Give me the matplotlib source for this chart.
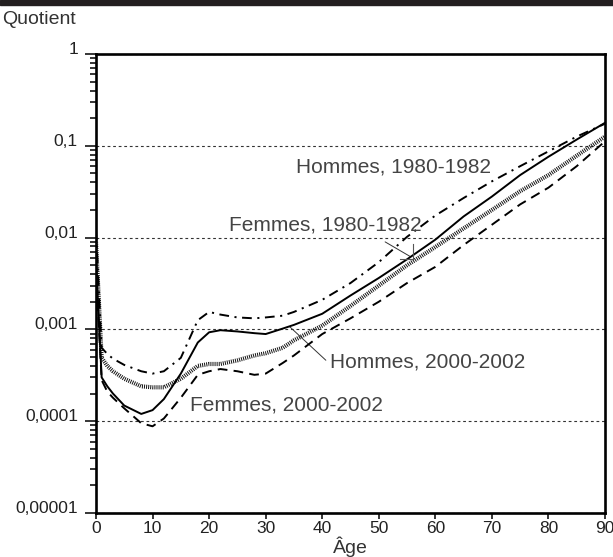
import matplotlib
matplotlib.use("Agg")
import matplotlib.pyplot as plt
import numpy as np
from matplotlib.patches import Rectangle
from matplotlib.ticker import LogLocator, FixedLocator, NullFormatter

plt.rcParams['font.family'] = ['Liberation Sans', 'DejaVu Sans']
plt.rcParams['lines.scale_dashes'] = False

# age and death quotients
ages = [0, 1, 2, 3, 5, 8, 10, 12, 15, 18, 20, 22, 25, 28, 30, 33, 35,
        40, 45, 50, 55, 60, 65, 70, 75, 80, 85, 90]

hommes_2000 = [0.0055, 0.0003, 0.00024, 0.0002, 0.000148, 0.00012, 0.000132, 0.000174,
               0.00033, 0.00072, 0.00093, 0.00098, 0.00095, 0.00091, 0.00089, 0.00102,
               0.00112, 0.00148, 0.00234, 0.00363, 0.0058, 0.0095, 0.017, 0.028,
               0.048, 0.076, 0.117, 0.178]
hommes_1980 = [0.012, 0.00063, 0.00054, 0.00048, 0.00041, 0.00035, 0.00033, 0.00035,
               0.00049, 0.00126, 0.00155, 0.00145, 0.00135, 0.00132, 0.00135, 0.00141,
               0.00155, 0.0021, 0.0032, 0.0054, 0.0102, 0.0174, 0.027, 0.041,
               0.060, 0.087, 0.126, 0.174]
femmes_1980 = [0.009, 0.00049, 0.0004, 0.00035, 0.00029, 0.00024, 0.000234, 0.000234,
               0.00029, 0.0004, 0.00042, 0.00042, 0.00046, 0.00052, 0.00055, 0.00063,
               0.00076, 0.0011, 0.0018, 0.003, 0.005, 0.0079, 0.0126, 0.020,
               0.032, 0.048, 0.078, 0.126]
femmes_2000 = [0.0045, 0.00028, 0.00021, 0.00018, 0.000138, 0.000095, 0.000088, 0.000107,
               0.00018, 0.00032, 0.00035, 0.00037, 0.00035, 0.00032, 0.00033, 0.00043,
               0.00052, 0.00089, 0.00132, 0.002, 0.0032, 0.0048, 0.0083, 0.0138,
               0.023, 0.035, 0.060, 0.112]

y_ticks = [1e-5, 1e-4, 1e-3, 1e-2, 1e-1, 1]
y_labels = ["0,00001", "0,0001", "0,001", "0,01", "0,1", "1"]
x_ticks = [0, 10, 20, 30, 40, 50, 60, 70, 80, 90]

fig = plt.figure(figsize=(6.13, 5.57), dpi=100)
ax = fig.add_axes([96/613, 1-513/557, (605-96)/613, (513-54)/557])

# top black band
fig.patches.append(Rectangle((0, 1-5/557), 1, 5/557, transform=fig.transFigure,
                             color='#231f20', zorder=0))

ax.plot(ages, hommes_2000, color='black', lw=1.4, zorder=4)
ax.plot(ages, hommes_1980, color='black', lw=1.4, linestyle=(0, (7, 4, 1.5, 4)), zorder=4)
ax.plot(ages, femmes_1980, color='#111111', lw=3, linestyle=(0, (0.7, 0.8)), zorder=3)
ax.plot(ages, femmes_2000, color='black', lw=1.4, linestyle=(0, (7, 4.5)), zorder=4)

ax.set_yscale('log')
ax.set_ylim(1e-5, 1)
ax.set_xlim(0, 90)
ax.yaxis.set_major_locator(FixedLocator(y_ticks))
ax.set_yticklabels(y_labels)
ax.yaxis.set_minor_locator(LogLocator(base=10, subs=np.arange(2, 10), numticks=20))
ax.yaxis.set_minor_formatter(NullFormatter())
ax.set_xticks(x_ticks)
ax.set_xticklabels([str(v) for v in x_ticks])

ax.tick_params(axis='y', which='major', direction='out', length=8, width=1.1,
               labelsize=12.5, labelcolor='#222222', pad=5)
ax.tick_params(axis='y', which='minor', direction='out', length=4, width=1.1)
ax.tick_params(axis='x', which='major', direction='out', length=4, width=1.1,
               labelsize=12.5, labelcolor='#222222', pad=2)
for lbl in ax.get_yticklabels():
    lbl.set_verticalalignment('baseline')

ax.yaxis.grid(True, which='major', linestyle=(0, (2, 2)), color='#333333', lw=0.8)
for s in ax.spines.values():
    s.set_linewidth(1.9)
    s.set_color('black')

ax.set_xlabel("Âge", fontsize=14, color='#333333', labelpad=0)
fig.text(2/613, 1-19/557, "Quotient", fontsize=14, color='#333333', va='center', ha='left')

lab_kw = dict(fontsize=15, color='#444444', va='center', ha='left', zorder=5)
ax.text(35.4, 0.059, "Hommes, 1980-1982", **lab_kw)
ax.text(23.5, 0.0137, "Femmes, 1980-1982", **lab_kw)
ax.text(41.4, 0.00044, "Hommes, 2000-2002", **lab_kw)
ax.text(16.6, 0.000150, "Femmes, 2000-2002", **lab_kw)

# leader lines
ax.annotate("", xy=(56.0, 0.0060), xytext=(50.7, 0.0093),
            arrowprops=dict(arrowstyle='-', color='#333333', lw=0.7))
ax.plot([53.8, 56.0], [0.0058, 0.0058], color='#555555', lw=0.8, zorder=5)
ax.plot([56.0, 56.0], [0.0058, 0.0085], color='#555555', lw=0.8, zorder=5)
ax.annotate("", xy=(33.9, 0.00112), xytext=(41.0, 0.00044),
            arrowprops=dict(arrowstyle='-', color='#333333', lw=0.7))

fig.savefig("out.png", dpi=100)
